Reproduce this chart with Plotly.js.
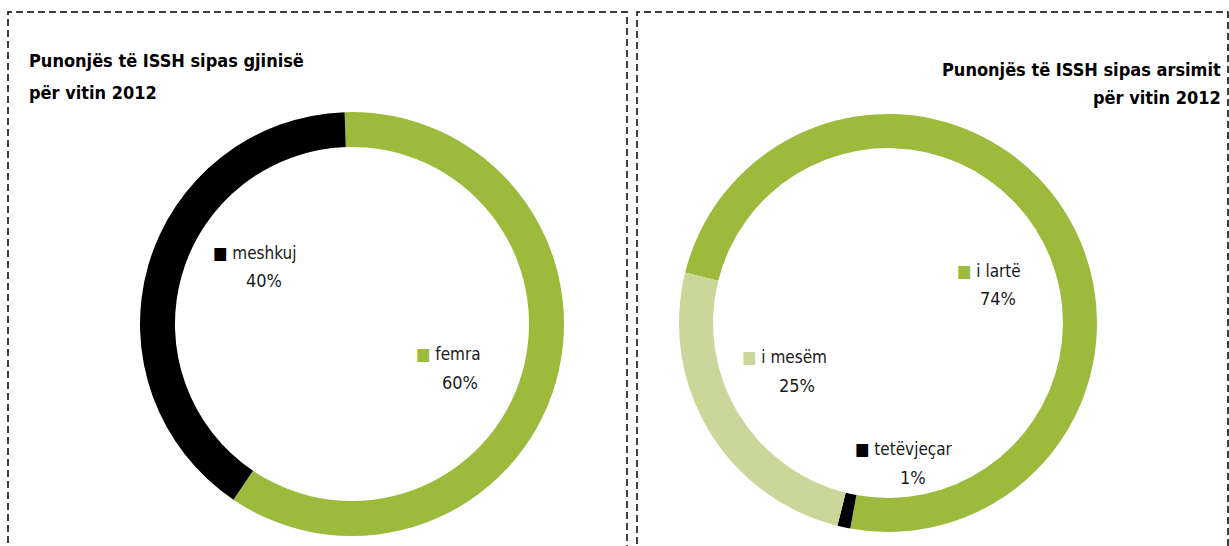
<!DOCTYPE html>
<html>
<head>
<meta charset="utf-8">
<script src="https://cdn.plot.ly/plotly-3.0.1.min.js"></script>
<style>html,body{margin:0;padding:0;background:#fff;}#chart{width:1229px;height:546px;}</style>
</head>
<body>
<div id="chart"></div>
<script>
// Data
const genderLabels = ["femra", "meshkuj"];
const genderValues = [60, 40];
const eduLabels = ["i lartë", "tetëvjeçar", "i mesëm"];
const eduValues = [74, 1, 25];
const titleGender = ["Punonjës të ISSH sipas gjinisë", "për vitin 2012"];
const titleEdu = ["Punonjës të ISSH sipas arsimit", "për vitin 2012"];

const GREEN = "#9cba3c", PALE = "#cbd79a", BLACK = "#000000";
const genderColors = [GREEN, BLACK];
const eduColors = [GREEN, BLACK, PALE];
const FONT = "'DejaVu Sans Condensed', 'Liberation Sans Narrow', sans-serif";

const W = 1229, H = 546;
const px = x => x / W;
const py = y => 1 - y / H;

const traces = [
  {
    type: "pie", labels: genderLabels, values: genderValues,
    marker: {colors: genderColors, line: {width: 0}},
    hole: 0.835, sort: false, direction: "clockwise", rotation: -2,
    textinfo: "none", hoverinfo: "label+percent", showlegend: false,
    domain: {x: [px(140), px(564)], y: [py(536), py(112)]}
  },
  {
    type: "pie", labels: eduLabels, values: eduValues,
    marker: {colors: eduColors, line: {width: 0}},
    hole: 0.837, sort: false, direction: "clockwise", rotation: -76,
    textinfo: "none", hoverinfo: "label+percent", showlegend: false,
    domain: {x: [px(679), px(1097)], y: [py(532), py(114)]}
  }
];

function pct(vals, i) {
  const s = vals.reduce((a, b) => a + b, 0);
  return Math.round(vals[i] / s * 100) + "%";
}

// label positions: [name-line centre x, name y, percent centre x, percent y]
const genderPos = [[449, 354, 460, 382], [255, 253, 264, 280]];
const eduPos = [[989, 271, 998, 298], [904, 449, 913, 477], [784, 357, 797, 385]];

const annotations = [];
function addLabels(labels, vals, colors, pos) {
  labels.forEach((l, i) => {
    const p = pos[i];
    annotations.push({
      xref: "paper", yref: "paper", x: px(p[0]), y: py(p[1]),
      xanchor: "center", yanchor: "middle", showarrow: false,
      text: "<span style='color:" + colors[i] + "'>■</span> " + l,
      font: {family: FONT, size: 17, color: "#1a1a1a"}
    });
    annotations.push({
      xref: "paper", yref: "paper", x: px(p[2]), y: py(p[3]),
      xanchor: "center", yanchor: "middle", showarrow: false,
      text: pct(vals, i),
      font: {family: FONT, size: 18, color: "#1a1a1a"}
    });
  });
}
addLabels(genderLabels, genderValues, genderColors, genderPos);
addLabels(eduLabels, eduValues, eduColors, eduPos);

function addTitle(lines, x, ys, anchor) {
  lines.forEach((t, i) => {
    annotations.push({
      xref: "paper", yref: "paper", x: px(x), y: py(ys[i]), xanchor: anchor, yanchor: "middle",
      showarrow: false, text: "<b>" + t + "</b>",
      font: {family: FONT, size: 18, color: "#000"}
    });
  });
}
addTitle(titleGender, 27, [60, 92], "left");
addTitle(titleEdu, 1223, [69, 97], "right");

const dashLine = {color: "#000", width: 1.5, dash: "7px,4px"};
const shapes = [
  {type: "rect", xref: "paper", yref: "paper", x0: px(8), x1: px(627), y0: py(560), y1: py(12), line: dashLine},
  {type: "rect", xref: "paper", yref: "paper", x0: px(637), x1: px(1228), y0: py(560), y1: py(12), line: dashLine}
];

const layout = {
  width: W, height: H,
  margin: {l: 0, r: 0, t: 0, b: 0},
  paper_bgcolor: "#fff", plot_bgcolor: "#fff",
  showlegend: false,
  annotations: annotations, shapes: shapes
};

Plotly.newPlot("chart", traces, layout, {displayModeBar: false, staticPlot: true});
</script>
</body>
</html>
